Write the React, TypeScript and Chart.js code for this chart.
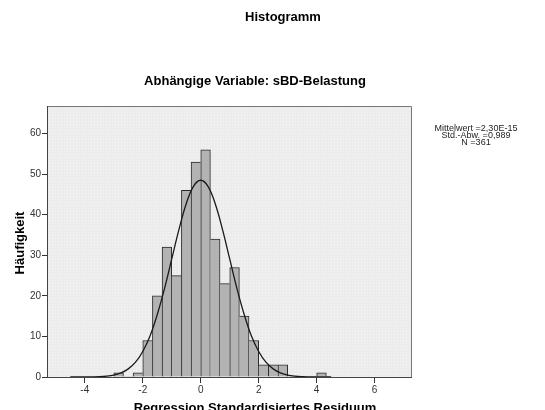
import React, { useEffect, useRef } from "react";
import { Chart, registerables } from "chart.js";
Chart.register(...registerables);

const binCenters = [-2.833, -2.5, -2.167, -1.833, -1.5, -1.167, -0.833, -0.5, -0.167, 0.167, 0.5, 0.833, 1.167, 1.5, 1.833, 2.167, 2.5, 2.833, 3.167, 3.5, 3.833, 4.167];
const binCounts = [1, 0, 1, 9, 20, 32, 25, 46, 53, 56, 34, 23, 27, 15, 9, 3, 3, 3, 0, 0, 0, 1];

const curveX = [-4.5, -4.25, -4, -3.75, -3.5, -3.25, -3, -2.75, -2.5, -2.25, -2, -1.75, -1.5, -1.25, -1, -0.75, -0.5, -0.25, 0, 0.25, 0.5, 0.75, 1, 1.25, 1.5, 1.75, 2, 2.25, 2.5, 2.75, 3, 3.25, 3.5, 3.75, 4, 4.25, 4.5];
const curveY = [0, 0, 0.01, 0.04, 0.09, 0.22, 0.49, 1.0, 2.0, 3.65, 6.3, 10.1, 15.4, 21.8, 29.1, 36.4, 42.7, 47.0, 48.5, 47.0, 42.7, 36.4, 29.1, 21.8, 15.4, 10.1, 6.3, 3.65, 2.0, 1.0, 0.49, 0.22, 0.09, 0.04, 0.01, 0, 0];

const xTicks = [-4, -2, 0, 2, 4, 6];
const yTicks = [0, 10, 20, 30, 40, 50, 60];

const mainTitle = "Histogramm";
const subTitle = "Abhängige Variable: sBD-Belastung";
const xTitle = "Regression Standardisiertes Residuum";
const yTitle = "Häufigkeit";
const statsLines = ["Mittelwert =2,30E-15", "Std.-Abw. =0,989", "N =361"];

const FONT = "'Liberation Sans', Arial, Helvetica, sans-serif";

export default function App() {
  const ref = useRef<HTMLCanvasElement | null>(null);
  useEffect(() => {
    const canvas = ref.current!;
    Chart.defaults.font.family = FONT;

    const pat = document.createElement("canvas");
    pat.width = 3;
    pat.height = 3;
    const pctx = pat.getContext("2d")!;
    pctx.fillStyle = "#ececec";
    pctx.fillRect(0, 0, 3, 3);
    pctx.fillStyle = "#f7f7f7";
    pctx.fillRect(1, 1, 1, 1);

    const bgPlugin = {
      id: "bg",
      beforeDraw(chart: any) {
        const { ctx, chartArea: a } = chart;
        ctx.save();
        ctx.fillStyle = ctx.createPattern(pat, "repeat");
        ctx.fillRect(a.left, a.top, a.right - a.left, a.bottom - a.top);
        ctx.restore();
      },
      afterDatasetsDraw(chart: any) {
        const { ctx, chartArea: a } = chart;
        ctx.save();
        ctx.lineWidth = 1;
        ctx.strokeStyle = "#777";
        ctx.beginPath();
        ctx.moveTo(a.left, a.top + 0.5);
        ctx.lineTo(a.right - 0.5, a.top + 0.5);
        ctx.lineTo(a.right - 0.5, a.bottom);
        ctx.stroke();
        ctx.strokeStyle = "#444";
        ctx.beginPath();
        ctx.moveTo(a.left - 0.5, a.top);
        ctx.lineTo(a.left - 0.5, a.bottom + 0.5);
        ctx.lineTo(a.right, a.bottom + 0.5);
        ctx.stroke();
        ctx.restore();
      },
      afterDraw(chart: any) {
        const { ctx } = chart;
        ctx.save();
        ctx.fillStyle = "#000";
        ctx.textAlign = "center";
        ctx.textBaseline = "middle";
        ctx.font = `bold 13px ${FONT}`;
        ctx.fillText(mainTitle, 283, 17);
        ctx.fillText(subTitle, 255, 81);
        ctx.textBaseline = "top";
        ctx.fillText(xTitle, 255, 402);
        ctx.save();
        ctx.translate(20, 243);
        ctx.rotate(-Math.PI / 2);
        ctx.textBaseline = "middle";
        ctx.fillText(yTitle, 0, 0);
        ctx.restore();
        ctx.font = `9px ${FONT}`;
        ctx.fillStyle = "#222";
        ctx.textBaseline = "middle";
        statsLines.forEach((s, i) => ctx.fillText(s, 476, 128.5 + i * 7));
        ctx.restore();
      },
    };

    const borderFor = (c: any) => {
      const i = c.dataIndex;
      const v = binCounts[i];
      if (!v) return 0;
      const prev = i > 0 ? binCounts[i - 1] : 0;
      const next = i < binCounts.length - 1 ? binCounts[i + 1] : 0;
      return { top: 1, left: prev <= v ? 1 : 0, right: next < v ? 1 : 0, bottom: 0 };
    };

    const chart = new Chart(canvas, {
      type: "bar",
      data: {
        datasets: [
          {
            type: "line",
            data: curveX.map((x, i) => ({ x, y: curveY[i] })),
            borderColor: "#1a1a1a",
            borderWidth: 1.3,
            pointRadius: 0,
            tension: 0.4,
            fill: false,
            order: 0,
          } as any,
          {
            type: "bar",
            data: binCenters.map((x, i) => ({ x, y: binCounts[i] })),
            backgroundColor: "#b3b3b3",
            borderColor: "#2a2a2a",
            borderWidth: borderFor as any,
            borderSkipped: false as any,
            barPercentage: 1,
            categoryPercentage: 1,
            order: 1,
          } as any,
        ],
      },
      options: {
        responsive: false,
        animation: false,
        devicePixelRatio: 1,
        layout: { padding: { left: 0, top: 106, right: 133, bottom: 0 } },
        plugins: { legend: { display: false }, tooltip: { enabled: false }, title: { display: false } },
        scales: {
          x: {
            type: "linear",
            offset: false,
            min: -5.27,
            max: 7.29,
            afterBuildTicks: (s: any) => {
              s.ticks = xTicks.map((v) => ({ value: v }));
            },
            afterFit: (s: any) => {
              s.height = 33;
            },
            grid: { display: true, offset: false, drawOnChartArea: false, drawTicks: true, tickLength: 6, color: "#333" },
            border: { display: false },
            ticks: { color: "#333", font: { size: 10 }, padding: 1, maxRotation: 0, autoSkip: false },
          },
          y: {
            type: "linear",
            min: 0,
            max: 66.8,
            afterBuildTicks: (s: any) => {
              s.ticks = yTicks.map((v) => ({ value: v }));
            },
            afterFit: (s: any) => {
              s.width = 48;
            },
            grid: { display: true, drawOnChartArea: false, drawTicks: true, tickLength: 6, color: "#333" },
            border: { display: false },
            ticks: { color: "#333", font: { size: 10 }, padding: 1, autoSkip: false },
          },
        },
      },
      plugins: [bgPlugin],
    } as any);
    return () => chart.destroy();
  }, []);
  return (
    <div style={{ position: "absolute", left: 0, top: 0, width: 545, height: 410, background: "#fff" }}>
      <canvas ref={ref} width={545} height={410} style={{ width: 545, height: 410, display: "block" }} />
    </div>
  );
}
